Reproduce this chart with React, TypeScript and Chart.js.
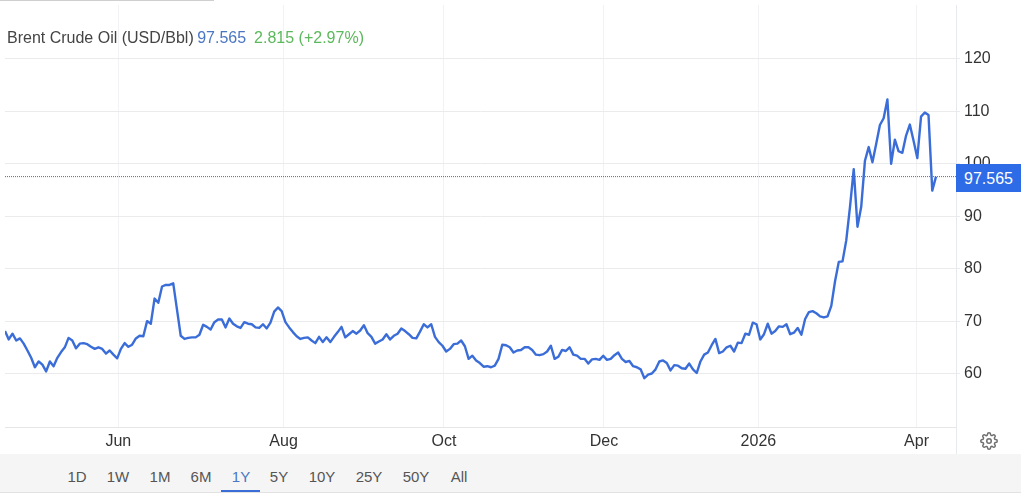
import React, { useEffect, useRef } from 'react';
import { Chart, registerables } from 'chart.js';

Chart.register(...registerables);

// daily closes, one per trading session
const prices: number[] = [
  68.1, 66.5, 67.6, 66.3, 66.7, 65.7, 64.4, 63, 61.2, 62.3, 61.7, 60.4, 62.3, 61.4, 63, 64.1, 65, 66.8, 66.3, 64.8,
  65.7, 65.8, 65.6, 65.1, 64.7, 65, 64.7, 63.8, 64.4, 63.6, 62.9, 64.7, 65.8, 65.1, 65.5, 66.7, 67.2, 67.1, 70, 69.5,
  74.3, 73.5, 76.6, 76.9, 76.9, 77.2, 72.2, 67.2, 66.6, 66.8, 66.9, 66.9, 67.4, 69.3, 68.9, 68.4, 69.8, 70.3, 70.3, 68.8,
  70.5, 69.5, 69, 68.7, 69.8, 69.5, 69.4, 68.8, 68.7, 69.4, 68.6, 69.7, 71.8, 72.6, 71.9, 69.8, 68.8, 67.9, 67.1, 66.6,
  66.8, 66.9, 66.3, 65.8, 67, 66, 66.9, 66, 67, 67.9,
  68.9, 66.9, 67.5, 68.1, 67.6, 68.2, 69.2, 67.7, 67, 65.7, 66.1, 66.5, 67.5, 66.5, 67.2, 67.6, 68.6, 68.1, 67.5, 66.8,
  66.7, 68, 69.4, 68.8, 69.4, 67, 66, 65.3, 64.2, 64.7, 65.6, 65.7, 66.3, 65.2, 62.8, 63.4, 62.5, 62, 61.3, 61.4,
  61.2, 61.5, 62.8, 65.5, 65.4, 65, 64, 64.4, 64.5, 65, 65, 64.5, 63.6, 63.5, 63.7, 64.2, 65.3, 62.8, 63.2, 64.5,
  64.3, 65, 63.6, 63.4, 62.8, 62.8, 61.9, 62.7, 62.8, 62.6, 63.4, 62.6, 62.8, 63.5, 64, 62.8, 62.2, 62.4, 61.4, 61.2,
  60.8, 59.1, 59.8, 60, 60.8, 62.3, 62.5, 62, 60.6,
  61.6, 61.5, 61, 60.9, 61.9, 60.8, 60.1, 62.3, 63.6, 64, 65.4, 66.6, 63.9, 64.2, 65, 65.3, 64.2, 65.9, 65.8, 67.6,
  67.4, 69.7, 69.4, 66.5, 67.5, 69.5, 67.6, 68.1, 69, 68.9, 69.4, 67.5, 67.8, 68.7, 67.4, 70.4, 71.7, 71.9, 71.5, 70.9,
  70.7, 70.9, 72.9, 77.6, 81.3, 81.4, 85.4, 91.8, 99, 88, 91.8, 100.6, 103.2, 100.3, 103.8, 107.4, 108.7, 112.3, 100,
  104.6, 102.4, 102.1, 105.4, 107.5, 104.4, 101.1, 109, 109.8, 109.3, 94.9, 97.565,
];
const tickSessions = [30.3, 74.5, 117.4, 160.2, 201.5, 243.8];
const tickLabels = ['Jun', 'Aug', 'Oct', 'Dec', '2026', 'Apr'];
const priceTicks = [60, 70, 80, 90, 100, 110, 120];
const ranges = ['1D', '1W', '1M', '6M', '1Y', '5Y', '10Y', '25Y', '50Y', 'All'];
const rangeCenters = [77, 118, 160, 201, 241, 279, 322, 369, 416, 459];
const lastPrice = 97.565;

const FONT = '"Liberation Sans", Arial, sans-serif';
const LINE = '#3a6dd8';

export default function App() {
  const ref = useRef<HTMLCanvasElement>(null);

  useEffect(() => {
    document.body.style.margin = '0';
    if (!ref.current) return;
    const xMax = 254.35;
    const chart = new Chart(ref.current, {
      type: 'line',
      data: {
        datasets: [
          {
            data: [{ x: 0, y: lastPrice }, { x: xMax, y: lastPrice }],
            borderColor: '#3a6dd8',
            borderWidth: 1,
            borderDash: [1, 1],
            pointRadius: 0,
          },
          {
            data: prices.map((y, x) => ({ x, y })),
            borderColor: LINE,
            borderWidth: 2.4,
            borderJoinStyle: 'round',
            pointRadius: 0,
            tension: 0,
          },
        ],
      },
      options: {
        responsive: false,
        animation: false,
        layout: { padding: { left: 5, top: 5, right: 0, bottom: 0 } },
        plugins: { legend: { display: false }, tooltip: { enabled: false } },
        scales: {
          x: {
            type: 'linear',
            min: 0,
            max: xMax,
            afterBuildTicks: (axis) => {
              axis.ticks = tickSessions.map((value) => ({ value }));
            },
            afterFit: (axis) => {
              axis.height = 69;
              axis.paddingLeft = 0;
              axis.paddingRight = 0;
            },
            grid: { color: '#f0f2f5', drawTicks: false },
            border: { color: '#e6e6e6' },
            ticks: {
              autoSkip: false,
              maxRotation: 0,
              padding: 5,
              color: '#333333',
              font: { family: FONT, size: 16 },
              callback: (value) => tickLabels[tickSessions.indexOf(value as number)] ?? '',
            },
          },
          y: {
            position: 'right',
            min: 49.8,
            max: 130.3,
            afterBuildTicks: (axis) => {
              axis.ticks = priceTicks.map((value) => ({ value }));
            },
            afterFit: (axis) => {
              axis.width = 68;
              // no room kept for half a label at the top, the ticks stop well below it
              axis.paddingTop = 0;
              axis.paddingBottom = 0;
            },
            grid: { color: '#ebebeb', tickLength: 4 },
            border: { color: '#e6e9ee' },
            ticks: {
              padding: 4,
              color: '#333333',
              font: { family: FONT, size: 16 },
            },
          },
        },
      },
    });
    return () => chart.destroy();
  }, []);

  return (
    <div style={{ position: 'absolute', left: 0, top: 0, width: 1024, height: 496, overflow: 'hidden', background: '#fff', fontFamily: FONT }}>
      <canvas ref={ref} width={1024} height={496} style={{ display: 'block' }} />
      <div style={{ position: 'absolute', left: 0, top: 0, width: 214, height: 1, background: '#cfcfcf' }} />
      <div style={{ position: 'absolute', left: 7, top: 29, fontSize: 16, lineHeight: '17px', whiteSpace: 'pre', color: '#444' }}>
        Brent Crude Oil (USD/Bbl) <span style={{ color: '#4a76c4', marginLeft: -1 }}>97.565</span>
        <span style={{ color: '#5cb85c', marginLeft: 8 }}>2.815 (+2.97%)</span>
      </div>
      <div style={{ position: 'absolute', left: 956, top: 164, width: 65, height: 28, background: '#2e6be6', color: '#fff', fontSize: 16, lineHeight: '29px', textAlign: 'center' }}>
        97.565
      </div>
      <div style={{ position: 'absolute', left: 956, top: 427, width: 1, height: 27, background: '#e6e9ee' }} />
      <svg style={{ position: 'absolute', left: 980, top: 432 }} width={18} height={18} viewBox="0 0 24 24" fill="none" stroke="#6f6f6f" strokeWidth={2}>
        <circle cx={12} cy={12} r={3} />
        <path d="M19.4 15a1.65 1.65 0 0 0 .33 1.82l.06.06a2 2 0 0 1 0 2.83 2 2 0 0 1-2.83 0l-.06-.06a1.65 1.65 0 0 0-1.82-.33 1.65 1.65 0 0 0-1 1.51V21a2 2 0 0 1-2 2 2 2 0 0 1-2-2v-.09A1.65 1.65 0 0 0 9 19.4a1.65 1.65 0 0 0-1.82.33l-.06.06a2 2 0 0 1-2.83 0 2 2 0 0 1 0-2.83l.06-.06a1.65 1.65 0 0 0 .33-1.82 1.65 1.65 0 0 0-1.51-1H3a2 2 0 0 1-2-2 2 2 0 0 1 2-2h.09A1.65 1.65 0 0 0 4.6 9a1.65 1.65 0 0 0-.33-1.82l-.06-.06a2 2 0 0 1 0-2.83 2 2 0 0 1 2.83 0l.06.06a1.65 1.65 0 0 0 1.82.33H9a1.65 1.65 0 0 0 1-1.51V3a2 2 0 0 1 2-2 2 2 0 0 1 2 2v.09a1.65 1.65 0 0 0 1 1.51 1.65 1.65 0 0 0 1.82-.33l.06-.06a2 2 0 0 1 2.83 0 2 2 0 0 1 0 2.83l-.06.06a1.65 1.65 0 0 0-.33 1.82V9a1.65 1.65 0 0 0 1.51 1H21a2 2 0 0 1 2 2 2 2 0 0 1-2 2h-.09a1.65 1.65 0 0 0-1.51 1z" />
      </svg>
      <div style={{ position: 'absolute', left: 0, top: 454, width: 1021, height: 38, background: '#f5f5f5', borderBottom: '1px solid #e2e2e2' }}>
        {ranges.map((r, i) => (
          <span key={r} style={{ position: 'absolute', left: rangeCenters[i] - 25, width: 50, top: 14, textAlign: 'center', fontSize: 15, lineHeight: '17px', color: r === '1Y' ? '#4a76c4' : '#555' }}>
            {r}
          </span>
        ))}
        <div style={{ position: 'absolute', left: 221, top: 36, width: 39, height: 2, background: '#3a6dd8' }} />
      </div>
    </div>
  );
}
